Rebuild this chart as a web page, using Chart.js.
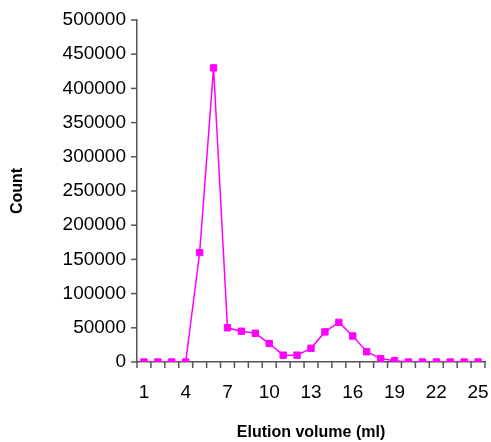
<!DOCTYPE html>
<html>
<head>
<meta charset="utf-8">
<script src="https://cdn.jsdelivr.net/npm/chart.js@4/dist/chart.umd.min.js"></script>
<style>
  html, body { margin: 0; padding: 0; background: #fff; }
  #wrap { width: 491px; height: 442px; }
</style>
</head>
<body>
<div id="wrap"><canvas id="elutionChart" width="491" height="442"></canvas></div>
<script>
// ===== DATOS =====
const fracciones = ['1','2','3','4','5','6','7','8','9','10','11','12','13',
                    '14','15','16','17','18','19','20','21','22','23','24','25'];
const cuentas = [0, 0, 0, 0, 160000, 430000, 50000, 45000, 42000, 27000, 10000, 10000,
                 20000, 44000, 58000, 38000, 15000, 5000, 2000, 0, 0, 0, 0, 0, 0];
const yMin = 0;
const yMax = 500000;
const yPaso = 50000;

const ejeColor = '#555555';
const fuente = 'Arial, "Liberation Sans", sans-serif';
const largoMarca = 6;

// marcas de los ejes (hacia afuera), a partir de las escalas de Chart.js
const marcasEje = {
    id: 'marcasEje',
    afterDraw(chart) {
        const c = chart.ctx;
        const sx = chart.scales.x;
        const sy = chart.scales.y;
        const area = chart.chartArea;
        c.save();
        c.setLineDash([]);
        c.globalAlpha = 1;
        c.globalCompositeOperation = 'source-over';
        c.strokeStyle = ejeColor;
        c.lineWidth = 1.5;
        for (let i = 0; i < sy.ticks.length; i++) {
            const y = sy.getPixelForTick(i);
            c.beginPath();
            c.moveTo(area.left - largoMarca, y);
            c.lineTo(area.left, y);
            c.stroke();
        }
        for (let i = 0; i <= fracciones.length; i++) {
            const x = sx.getPixelForValue(i - 0.5);
            c.beginPath();
            c.moveTo(x, area.bottom);
            c.lineTo(x, area.bottom + largoMarca);
            c.stroke();
        }
        c.restore();
    }
};

// ===== GRÁFICO ELUCIÓN =====
const ctx = document.getElementById('elutionChart');

new Chart(ctx, {
    type: 'line',
    data: {
        labels: fracciones,
        datasets: [{
            data: cuentas,
            borderColor: '#ff00ff',
            backgroundColor: '#ff00ff',
            borderWidth: 1.5,
            pointStyle: 'rect',
            pointRadius: 4.5,
            pointBorderWidth: 1,
            tension: 0,
            fill: false
        }]
    },
    options: {
        responsive: false,
        animation: false,
        layout: {
            padding: { top: 20, right: 6, left: 0, bottom: 0 }
        },
        plugins: {
            legend: { display: false },
            tooltip: { enabled: false }
        },
        scales: {
            x: {
                type: 'category',
                offset: true,
                grid: {
                    offset: true,
                    drawOnChartArea: false,
                    tickLength: largoMarca,
                    tickColor: 'rgba(0,0,0,0)'
                },
                border: { display: true, color: ejeColor, width: 1.5 },
                ticks: {
                    autoSkip: false,
                    maxRotation: 0,
                    padding: 13,
                    color: '#000',
                    font: { family: fuente, size: 19 },
                    callback: function (v, i) {
                        return i % 3 === 0 ? this.getLabelForValue(v) : '';
                    }
                },
                title: {
                    display: true,
                    text: 'Elution volume (ml)',
                    color: '#000',
                    padding: 0,
                    font: { family: fuente, size: 16, weight: 'bold' }
                },
                afterFit: (s) => {
                    s.height = 80;
                    s.paddingLeft = 0;
                    s.paddingRight = 0;
                }
            },
            y: {
                min: yMin,
                max: yMax,
                grid: {
                    drawOnChartArea: false,
                    tickLength: largoMarca,
                    tickColor: 'rgba(0,0,0,0)'
                },
                border: { display: true, color: ejeColor, width: 1.5 },
                ticks: {
                    stepSize: yPaso,
                    padding: 5,
                    color: '#000',
                    font: { family: fuente, size: 19 },
                    callback: (v) => String(v)
                },
                title: {
                    display: true,
                    text: 'Count',
                    color: '#000',
                    padding: { top: 8, bottom: 0 },
                    font: { family: fuente, size: 16, weight: 'bold' }
                },
                afterFit: (s) => { s.width = 137; }
            }
        }
    },
    plugins: [marcasEje]
});
</script>
</body>
</html>
